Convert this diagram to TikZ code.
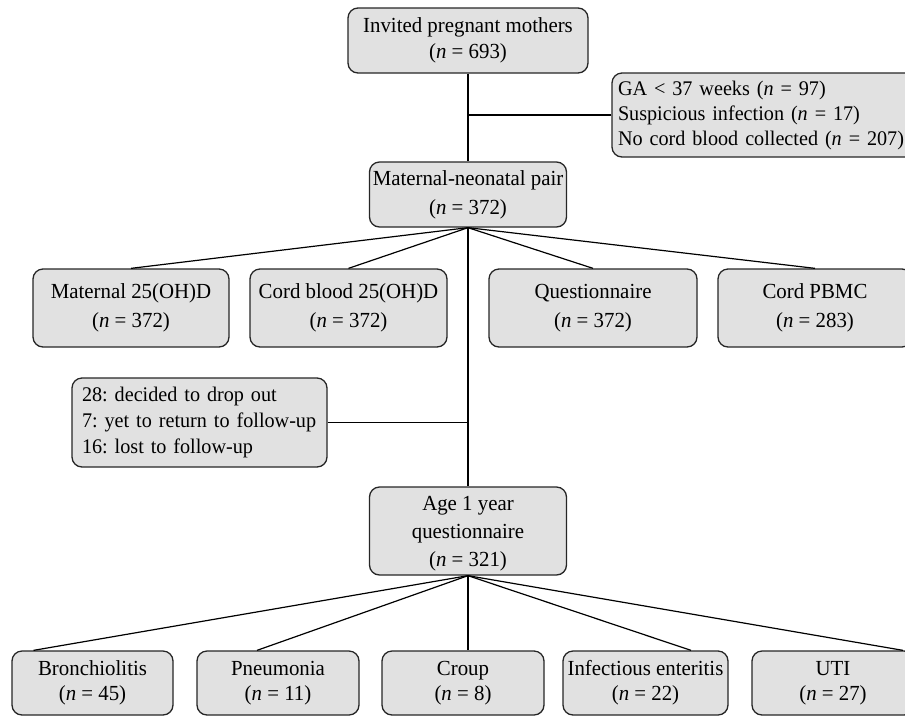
\documentclass[tikz,border=0pt]{standalone}
\usepackage{fontspec}
\setmainfont[FakeStretch=0.97]{Liberation Serif}
\usetikzlibrary{calc}
\definecolor{boxfill}{HTML}{E1E1E1}
\definecolor{boxline}{HTML}{262626}
\begin{document}
\frenchspacing
\begin{tikzpicture}[x=1pt,y=-1pt,
  box/.style={draw=boxline, fill=boxfill, line width=1.3pt, rounded corners=10pt,
    align=center, inner sep=0pt, font=\fontsize{21.5}{27}\selectfont},
  ls/.style={font=\fontsize{21.5}{#1}\selectfont},
  lsm/.style={font=\fontsize{20.8}{#1}\selectfont},
  link/.style={draw=black, line width=1.2pt}]
\path[use as bounding box, clip] (0,0) rectangle (905,716);

\node[box, ls=26, minimum width=240, minimum height=65] (top) at (468,40.5) {Invited pregnant mothers\\(\textit{n} = 693)};
\node[box, lsm=25, minimum width=308, minimum height=84, inner xsep=6pt, text width=296, align=left] (excl) at (766,115)
  {\mbox{GA < 37 weeks (\textit{n} = 97)}\\\mbox{Suspicious infection (\textit{n} = 17)}\\\mbox{No cord blood collected (\textit{n} = 207)}};
\node[box, ls=29, minimum width=197, minimum height=65] (pair) at (468,194.5) {Maternal-neonatal pair\\(\textit{n} = 372)};

\node[box, ls=29, minimum width=196, minimum height=78] (mat) at (131,308) {Maternal 25(OH)D\\(\textit{n} = 372)};
\node[box, ls=29, minimum width=197, minimum height=78] (cord) at (348.5,308) {Cord blood 25(OH)D\\(\textit{n} = 372)};
\node[box, ls=29, minimum width=208, minimum height=78] (quest) at (593,308) {Questionnaire\\(\textit{n} = 372)};
\node[box, ls=29, minimum width=194, minimum height=78] (pbmc) at (815,308) {Cord PBMC\\(\textit{n} = 283)};

\node[box, lsm=26, minimum width=255, minimum height=89, inner xsep=10pt, text width=235, align=left] (drop) at (199.5,422.5)
  {\mbox{28: decided to drop out}\\\mbox{7: yet to return to follow-up}\\\mbox{16: lost to follow-up}};
\node[box, ls=28, minimum width=197, minimum height=88] (age) at (468,531) {\rule{0pt}{20pt}Age 1 year\\questionnaire\\(\textit{n} = 321)};

\node[box, ls=25, minimum width=161, minimum height=64] (b1) at (92.5,683) {Bronchiolitis\\(\textit{n} = 45)};
\node[box, ls=25, minimum width=162, minimum height=64] (b2) at (278,683) {Pneumonia\\(\textit{n} = 11)};
\node[box, ls=25, minimum width=162, minimum height=64] (b3) at (463,683) {Croup\\(\textit{n} = 8)};
\node[box, ls=25, minimum width=165, minimum height=64] (b4) at (645.5,683) {Infectious enteritis\\(\textit{n} = 22)};
\node[box, ls=25, minimum width=162, minimum height=64] (b5) at (833,683) {UTI\\(\textit{n} = 27)};

\draw[link] (top.south) -- (pair.north);
\draw[link] (excl.west) -- (excl.west -| top.south);
\draw[link] (pair.south) -- (mat.north);
\draw[link] (pair.south) -- (cord.north);
\draw[link] (pair.south) -- (quest.north);
\draw[link] (pair.south) -- (pbmc.north);
\draw[link] (pair.south) -- (age.north);
\draw[link] (drop.east) -- (drop.east -| age.north);
\draw[link] (age.south) -- ([xshift=-59pt]b1.north);
\draw[link] (age.south) -- ([xshift=-21pt]b2.north);
\draw[link] (age.south) -- ([xshift=5pt]b3.north);
\draw[link] (age.south) -- ([xshift=45.5pt]b4.north);
\draw[link] (age.south) -- ([xshift=70pt]b5.north);
\end{tikzpicture}
\end{document}
